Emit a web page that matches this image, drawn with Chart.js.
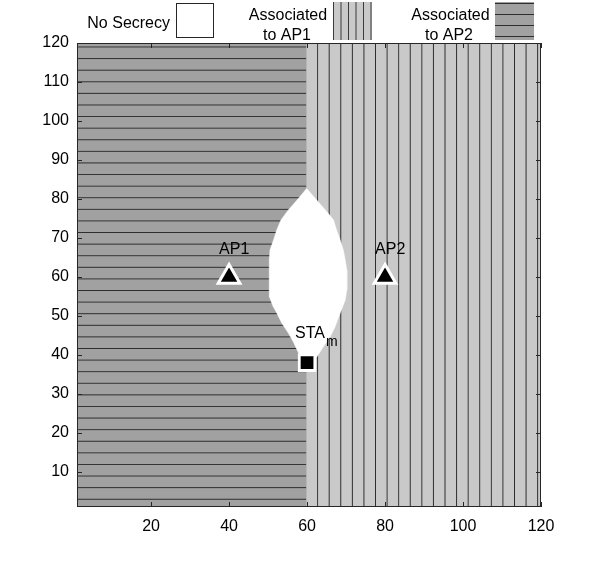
<!DOCTYPE html>
<html>
<head>
<meta charset="utf-8">
<script src="https://cdn.jsdelivr.net/npm/chart.js@4.4.1/dist/chart.umd.min.js"></script>
<style>
  html, body { margin: 0; padding: 0; background: #fff; }
  #wrap { width: 598px; height: 570px; }
</style>
</head>
<body>
<div id="wrap"><canvas id="map-chart" width="598" height="570"></canvas></div>
<script>
// tick labels
const xTicks = [20, 40, 60, 80, 100, 120];
const yTicks = [10, 20, 30, 40, 50, 60, 70, 80, 90, 100, 110, 120];

// border between the AP2 area (left) and the AP1 area (right)
const splitX = 59.8;
const areaTop = 120;

// no-secrecy area, traced clockwise from its top tip
const lensX = [59.9, 62.5, 65.1, 66.8, 67.6, 68.5, 69.3, 69.8, 70.2, 70.2, 69.8, 69.1, 68.1, 67.2, 65.9, 64.1, 62.5, 61, 59,
  57.8, 56.5, 55.2, 53.5, 52.2, 51.2, 50.4, 50.3, 50.5, 51.4, 52.2, 53.3, 55.2, 57.4, 59.9];
const lensY = [82.7, 79.7, 76.7, 74.6, 72.0, 69.5, 66.9, 64.3, 61.8, 56.7, 54.1, 52.3, 49.7, 47.2, 44.6, 42.0, 39.5, 38, 38,
  40.5, 43.3, 45.6, 48.2, 50.8, 52.6, 54.8, 64.3, 66.9, 69.5, 72.0, 74.6, 77.2, 79.7, 82.7];

// access points and station
const apNames = ['AP1', 'AP2'];
const apX = [40, 80];
const apY = [60, 60];
const staNames = ['STA'];
const staSubs = ['m'];
const staX = [60];
const staY = [38];

const legendLines = [['No Secrecy'], ['Associated', 'to AP1'], ['Associated', 'to AP2']];

const FONT = '"Liberation Sans", Arial, Helvetica, sans-serif';
const canvas = document.getElementById('map-chart');
const ctx = canvas.getContext('2d');

const makeHatch = (bg, ink, vertical) => {
  const tile = document.createElement('canvas');
  tile.width = 12;
  tile.height = 12;
  const t = tile.getContext('2d');
  t.fillStyle = bg;
  t.fillRect(0, 0, 12, 12);
  t.fillStyle = ink;
  if (vertical) t.fillRect(0, 0, 1, 12);
  else t.fillRect(0, 0, 12, 1);
  return ctx.createPattern(tile, 'repeat');
};

const lightHatch = makeHatch('#c9c9c9', '#2e2e2e', true);
const darkHatch = makeHatch('#a1a1a1', '#2e2e2e', false);

// keep the hatch lines on the same spots whatever the layout gives
const alignHatch = {
  id: 'alignHatch',
  beforeDatasetsDraw(chart) {
    const { x, y } = chart.scales;
    const colStep = x.getPixelForValue(62.7 + 2.97) - x.getPixelForValue(62.7);
    const sx = colStep / 12;
    lightHatch.setTransform(new DOMMatrix([sx, 0, 0, 1, x.getPixelForValue(62.7) - sx / 2, 0]));
    const rowStep = y.getPixelForValue(3) - y.getPixelForValue(3 + 2.974);
    const sy = rowStep / 12;
    darkHatch.setTransform(new DOMMatrix([1, 0, 0, sy, 0, y.getPixelForValue(3) - sy / 2]));
  }
};

// box with inward ticks, matlab style
const frame = {
  id: 'frame',
  afterDatasetsDraw(chart) {
    const { ctx, chartArea: a, scales: { x, y } } = chart;
    ctx.save();
    ctx.strokeStyle = '#262626';
    ctx.lineWidth = 1;
    ctx.beginPath();
    xTicks.forEach((v) => {
      const px = Math.round(x.getPixelForValue(v)) + 0.5;
      ctx.moveTo(px, a.bottom); ctx.lineTo(px, a.bottom - 5);
      ctx.moveTo(px, a.top); ctx.lineTo(px, a.top + 5);
    });
    yTicks.forEach((v) => {
      const py = Math.round(y.getPixelForValue(v)) + 0.5;
      ctx.moveTo(a.left, py); ctx.lineTo(a.left + 5, py);
      ctx.moveTo(a.right, py); ctx.lineTo(a.right - 5, py);
    });
    ctx.stroke();
    ctx.strokeRect(Math.round(a.left) + 0.5, Math.round(a.top) + 0.5,
      Math.round(a.right - a.left) - 1, Math.round(a.bottom - a.top) - 1);
    ctx.restore();
  }
};

const pointLabels = {
  id: 'pointLabels',
  afterDatasetsDraw(chart) {
    const { ctx, scales: { x, y } } = chart;
    ctx.save();
    ctx.fillStyle = '#000';
    ctx.textBaseline = 'alphabetic';
    ctx.textAlign = 'left';
    ctx.font = '16px ' + FONT;
    apNames.forEach((name, i) => {
      ctx.fillText(name, x.getPixelForValue(apX[i]) - 10, y.getPixelForValue(apY[i]) - 23);
    });
    staNames.forEach((name, i) => {
      const lx = x.getPixelForValue(staX[i]) - 12;
      const ly = y.getPixelForValue(staY[i]) - 24.5;
      ctx.font = '16px ' + FONT;
      ctx.fillText(name, lx, ly);
      const w = ctx.measureText(name).width;
      ctx.font = '14px ' + FONT;
      ctx.fillText(staSubs[i], lx + w + 1, ly + 8);
    });
    ctx.restore();
  }
};

const legendBox = {
  id: 'legendBox',
  afterDraw(chart) {
    const { ctx } = chart;
    ctx.save();
    ctx.fillStyle = '#000';
    ctx.font = '16px ' + FONT;
    ctx.textBaseline = 'alphabetic';

    // no secrecy
    ctx.textAlign = 'right';
    ctx.fillText(legendLines[0][0], 170, 28);
    ctx.fillStyle = '#fff';
    ctx.fillRect(176, 3, 38, 35);
    ctx.strokeStyle = '#262626';
    ctx.lineWidth = 1;
    ctx.strokeRect(176.5, 3.5, 37, 34);

    // associated to AP1
    ctx.fillStyle = '#000';
    ctx.textAlign = 'center';
    ctx.fillText(legendLines[1][0], 288, 20);
    ctx.fillText(legendLines[1][1], 287, 40);
    ctx.fillStyle = '#c9c9c9';
    ctx.fillRect(333, 2, 39, 38);
    ctx.fillStyle = '#3a3a3a';
    [333, 340.5, 348, 355.5, 363, 370.5].forEach((lx) => ctx.fillRect(lx, 2, 1, 38));

    // associated to AP2
    ctx.fillStyle = '#000';
    ctx.fillText(legendLines[2][0], 450.5, 20);
    ctx.fillText(legendLines[2][1], 449, 40);
    ctx.fillStyle = '#a1a1a1';
    ctx.fillRect(495, 2, 39, 38);
    ctx.fillStyle = '#2e2e2e';
    [3, 14, 25, 36].forEach((ly) => ctx.fillRect(495, ly, 39, 1));
    ctx.restore();
  }
};

const pts = (xs, ys) => xs.map((v, i) => ({ x: v, y: ys[i] }));

const data = {
  datasets: [
    {
      label: 'AP',
      data: pts(apX, apY),
      pointStyle: 'triangle',
      pointRadius: 12.5,
      backgroundColor: '#000',
      borderColor: '#fff',
      borderWidth: 3,
      showLine: false,
      order: 0
    },
    {
      label: 'STA',
      data: pts(staX, staY),
      pointStyle: 'rect',
      pointRadius: 11,
      backgroundColor: '#000',
      borderColor: '#fff',
      borderWidth: 2.8,
      showLine: false,
      order: 0
    },
    {
      label: 'No Secrecy',
      data: pts(lensX, lensY),
      showLine: true,
      fill: 'shape',
      backgroundColor: '#fff',
      borderColor: '#fff',
      borderWidth: 0.5,
      pointRadius: 0,
      tension: 0,
      order: 1
    },
    {
      label: 'Associated to AP2',
      data: [{ x: 1, y: areaTop }, { x: splitX, y: areaTop }],
      showLine: true,
      fill: 'start',
      backgroundColor: darkHatch,
      borderColor: 'rgba(0,0,0,0)',
      borderWidth: 0,
      pointRadius: 0,
      order: 2
    },
    {
      label: 'Associated to AP1',
      data: [{ x: splitX, y: areaTop }, { x: 120, y: areaTop }],
      showLine: true,
      fill: 'start',
      backgroundColor: lightHatch,
      borderColor: 'rgba(0,0,0,0)',
      borderWidth: 0,
      pointRadius: 0,
      order: 3
    }
  ]
};

const config = {
  type: 'scatter',
  data: data,
  options: {
    responsive: false,
    animation: false,
    events: [],
    layout: { padding: { top: 43, right: 57, bottom: 0, left: 0 } },
    plugins: {
      legend: { display: false },
      tooltip: { enabled: false }
    },
    scales: {
      x: {
        type: 'linear',
        min: 1,
        max: 120,
        grid: { display: false, drawTicks: false },
        border: { display: false },
        afterBuildTicks: (scale) => { scale.ticks = xTicks.map((v) => ({ value: v })); },
        afterFit: (scale) => { scale.height = 63; },
        ticks: { padding: 10, color: '#000', font: { family: FONT, size: 16 }, maxRotation: 0 }
      },
      y: {
        type: 'linear',
        min: 1,
        max: 120,
        grid: { display: false, drawTicks: false },
        border: { display: false },
        afterBuildTicks: (scale) => { scale.ticks = yTicks.map((v) => ({ value: v })); },
        afterFit: (scale) => { scale.width = 77; },
        ticks: { padding: 8, color: '#000', font: { family: FONT, size: 16 } }
      }
    }
  },
  plugins: [alignHatch, frame, pointLabels, legendBox]
};

new Chart(ctx, config);
</script>
</body>
</html>
